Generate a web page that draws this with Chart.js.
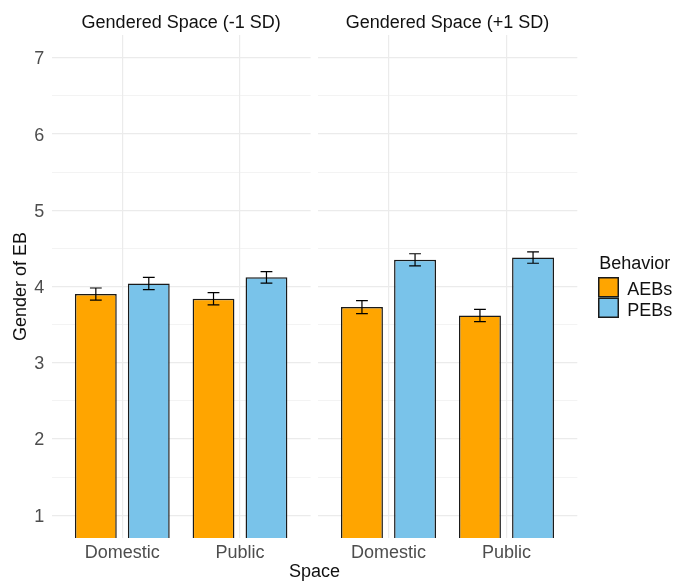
<!DOCTYPE html>
<html>
<head>
<meta charset="utf-8">
<script src="https://cdn.jsdelivr.net/npm/chart.js@4.4.1/dist/chart.umd.min.js"></script>
<style>
  html, body { margin: 0; padding: 0; background: #fff; }
  #wrap { position: relative; width: 676px; height: 581px; overflow: hidden;
          font-family: 'Liberation Sans', Arial, sans-serif; }
  #leftPanel { position: absolute; left: 0; top: 0; }
  #rightPanel { position: absolute; left: 311px; top: 0; }
  #xTitle { position: absolute; left: 0; width: 629px; top: 561px; text-align: center;
            font-size: 18px; line-height: 21.6px; color: #111; }
</style>
</head>
<body>
<div id="wrap">
  <canvas id="leftPanel" width="314" height="581"></canvas>
  <canvas id="rightPanel" width="365" height="581"></canvas>
  <div id="xTitle">Space</div>
</div>
<script>
// Facet titles, categories and series
const panelTitles = ['Gendered Space (-1 SD)', 'Gendered Space (+1 SD)'];
const spaces = ['Domestic', 'Public'];
const behaviors = ['AEBs', 'PEBs'];
const legendTitle = 'Behavior';
const yTitle = 'Gender of EB';

// Mean gender rating per space, low gendered space (-1 SD)
const aebLow = [3.90, 3.84];
const pebLow = [4.04, 4.12];
// Mean gender rating per space, high gendered space (+1 SD)
const aebHigh = [3.73, 3.62];
const pebHigh = [4.35, 4.38];
// Standard errors
const aebLowSE = [0.08, 0.08];
const pebLowSE = [0.08, 0.075];
const aebHighSE = [0.085, 0.08];
const pebHighSE = [0.08, 0.075];

// Axis ticks
const yTicks = [1, 2, 3, 4, 5, 6, 7];
const yMinorTicks = [1.5, 2.5, 3.5, 4.5, 5.5, 6.5];

const COLORS = { AEBs: '#FFA500', PEBs: '#79C3EA' };
const BAR_BORDER = '#1a1a1a';
const GRID = '#EBEBEB';
const TEXT = '#111';
const TICK_TEXT = '#4D4D4D';
const FONT = "'Liberation Sans', Arial, sans-serif";

Chart.defaults.font.family = FONT;
Chart.defaults.font.size = 18;

// Error bars (mean ± SE) drawn over each bar
const errorBars = {
  id: 'errorBars',
  afterDatasetsDraw(chart) {
    const { ctx } = chart;
    const y = chart.scales.y;
    ctx.save();
    ctx.strokeStyle = '#000';
    ctx.lineWidth = 1.2;
    chart.data.datasets.forEach((ds, i) => {
      const meta = chart.getDatasetMeta(i);
      meta.data.forEach((bar, j) => {
        const v = ds.data[j].y, e = ds.errors[j];
        const top = y.getPixelForValue(v + e);
        const bot = y.getPixelForValue(v - e);
        const x = bar.x, hw = 5.9;
        ctx.beginPath();
        ctx.moveTo(x, top); ctx.lineTo(x, bot);
        ctx.moveTo(x - hw, top); ctx.lineTo(x + hw, top);
        ctx.moveTo(x - hw, bot); ctx.lineTo(x + hw, bot);
        ctx.stroke();
      });
    });
    ctx.restore();
  }
};

// Legend to the right of the second panel
const sideLegend = {
  id: 'sideLegend',
  afterDraw(chart) {
    const { ctx, chartArea } = chart;
    const cy = (chartArea.top + chartArea.bottom) / 2;
    const x0 = chartArea.right + 20.7;
    const kw = 21, kh = 20.5;
    ctx.save();
    ctx.font = '18px ' + FONT;
    ctx.textAlign = 'left';
    ctx.textBaseline = 'alphabetic';
    ctx.fillStyle = TEXT;
    ctx.fillText(legendTitle, x0 + 1.3, cy - 17.5);
    chart.data.datasets.forEach((ds, i) => {
      const top = cy - 9.5 + i * kh;
      ctx.fillStyle = ds.backgroundColor;
      ctx.fillRect(x0, top, kw, kh);
      ctx.strokeStyle = ds.borderColor;
      ctx.lineWidth = 1.5;
      ctx.strokeRect(x0 + 0.75, top + 0.75, kw - 1.5, kh - 1.5);
      ctx.fillStyle = TEXT;
      ctx.fillText(ds.label, x0 + 29.3, top + 18);
    });
    ctx.restore();
  }
};

function makeDataset(label, means, errors) {
  return {
    label,
    data: spaces.map((s, i) => ({ x: i + 1, y: means[i] })),
    errors,
    backgroundColor: COLORS[label],
    borderColor: BAR_BORDER,
    borderWidth: 1.5,
    borderSkipped: 'start',
    categoryPercentage: 0.9,
    barPercentage: 0.79,
    clip: 0
  };
}

function makePanel(canvas, title, aeb, peb, aebSE, pebSE, first) {
  const plugins = [errorBars];
  if (!first) plugins.push(sideLegend);
  return new Chart(canvas, {
    type: 'bar',
    data: {
      datasets: [
        makeDataset(behaviors[0], aeb, aebSE),
        makeDataset(behaviors[1], peb, pebSE)
      ]
    },
    plugins,
    options: {
      responsive: false,
      animation: false,
      events: [],
      layout: { padding: first ? { left: 0, right: 3.4, top: 0, bottom: 0 }
                               : { left: 6.7, right: 98.7, top: 0, bottom: 0 } },
      plugins: {
        legend: { display: false },
        tooltip: { enabled: false },
        title: {
          display: true, text: title, fullSize: false, color: TEXT,
          font: { size: 18, weight: 'normal' },
          padding: { top: 11.9, bottom: 1.5 }
        }
      },
      scales: {
        x: {
          type: 'linear', min: 0.4, max: 2.6, offset: false,
          afterBuildTicks: s => { s.ticks = spaces.map((_, i) => ({ value: i + 1 })); },
          afterFit: s => { s.height = 43; },
          ticks: {
            autoSkip: false, maxRotation: 0, color: TICK_TEXT, padding: 4,
            font: { size: 18 },
            callback: v => spaces[Math.round(v) - 1]
          },
          grid: { color: GRID, lineWidth: 1.2, drawTicks: false, offset: false },
          border: { display: false }
        },
        y: {
          type: 'linear', min: 0.7, max: 7.3, beginAtZero: false,
          afterBuildTicks: s => {
            s.ticks = yTicks.concat(yMinorTicks).sort((a, b) => a - b).map(v => ({ value: v }));
          },
          afterFit: s => { s.width = first ? 51.7 : 0; },
          ticks: {
            display: first, autoSkip: false, color: TICK_TEXT, padding: 7.5, labelOffset: 1.5,
            font: { size: 18 },
            callback: v => (yTicks.includes(v) ? String(v) : '')
          },
          grid: {
            color: GRID, drawTicks: false,
            lineWidth: c => (c.tick && yTicks.includes(c.tick.value) ? 1.2 : 0.6)
          },
          border: { display: false },
          title: {
            display: first, text: yTitle, color: TEXT,
            font: { size: 18 }, padding: { top: 10.7, bottom: 0 }
          }
        }
      }
    }
  });
}

makePanel(document.getElementById('leftPanel'), panelTitles[0],
          aebLow, pebLow, aebLowSE, pebLowSE, true);
makePanel(document.getElementById('rightPanel'), panelTitles[1],
          aebHigh, pebHigh, aebHighSE, pebHighSE, false);
</script>
</body>
</html>
